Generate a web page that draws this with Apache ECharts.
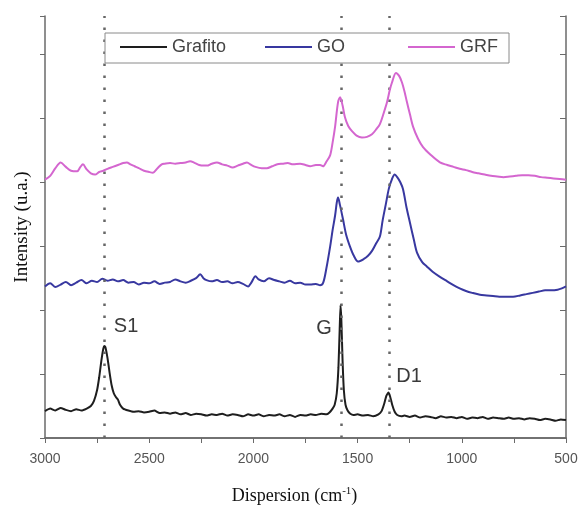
<!DOCTYPE html>
<html>
<head>
<meta charset="utf-8">
<script src="https://cdn.jsdelivr.net/npm/echarts@6/dist/echarts.min.js"></script>
<style>
  html, body { margin: 0; padding: 0; background: #fff; }
  #chart { width: 581px; height: 511px; }
</style>
</head>
<body>
<div id="chart"></div>
<script>
// Raman spectra, [wavenumber cm-1, intensity a.u.]
const grafito = [
  [3000,0.42],[2975,0.46],[2950,0.43],[2925,0.47],[2900,0.44],[2875,0.42],[2850,0.45],[2825,0.43],
  [2800,0.46],[2780,0.50],[2765,0.58],[2750,0.75],[2740,0.95],[2730,1.20],[2720,1.40],[2715,1.44],
  [2710,1.42],[2700,1.25],[2690,1.02],[2680,0.82],[2670,0.70],[2660,0.64],[2650,0.60],[2640,0.52],
  [2625,0.46],[2600,0.43],[2575,0.41],[2550,0.42],[2525,0.40],[2500,0.41],[2475,0.43],[2450,0.39],
  [2425,0.40],[2400,0.38],[2375,0.40],[2350,0.37],[2325,0.39],[2300,0.36],[2275,0.38],[2250,0.37],
  [2225,0.35],[2200,0.37],[2175,0.36],[2150,0.38],[2125,0.35],[2100,0.37],[2075,0.36],[2050,0.34],
  [2025,0.37],[2000,0.35],[1975,0.37],[1950,0.34],[1925,0.36],[1900,0.35],[1875,0.37],[1850,0.34],
  [1825,0.36],[1800,0.33],[1775,0.36],[1750,0.35],[1725,0.37],[1700,0.36],[1675,0.38],[1650,0.37],
  [1635,0.40],[1620,0.46],[1610,0.52],[1600,0.70],[1592,1.10],[1586,1.70],[1582,2.08],[1578,1.85],
  [1572,1.20],[1566,0.75],[1558,0.52],[1548,0.43],[1535,0.38],[1520,0.36],[1500,0.37],[1475,0.35],
  [1450,0.36],[1425,0.34],[1400,0.37],[1385,0.42],[1372,0.54],[1362,0.66],[1352,0.71],[1344,0.65],
  [1334,0.52],[1322,0.41],[1310,0.36],[1290,0.34],[1275,0.35],[1250,0.33],[1225,0.35],[1200,0.32],
  [1175,0.34],[1150,0.33],[1125,0.31],[1100,0.34],[1075,0.32],[1050,0.33],[1025,0.31],[1000,0.33],
  [975,0.30],[950,0.32],[925,0.31],[900,0.33],[875,0.30],[850,0.32],[825,0.31],[800,0.30],
  [775,0.32],[750,0.30],[725,0.31],[700,0.29],[675,0.31],[650,0.30],[625,0.28],[600,0.30],
  [575,0.29],[550,0.27],[525,0.29],[500,0.28]
]
const go = [
  [3000,2.37],[2975,2.42],[2950,2.36],[2925,2.40],[2900,2.44],[2875,2.39],[2850,2.43],[2825,2.47],
  [2800,2.42],[2775,2.46],[2750,2.44],[2725,2.49],[2700,2.46],[2675,2.48],[2650,2.45],[2625,2.47],
  [2600,2.43],[2575,2.44],[2550,2.40],[2525,2.43],[2500,2.42],[2475,2.45],[2450,2.41],[2425,2.43],
  [2400,2.44],[2375,2.48],[2350,2.45],[2325,2.43],[2300,2.46],[2275,2.50],[2255,2.56],[2240,2.50],
  [2225,2.47],[2200,2.45],[2175,2.47],[2150,2.44],[2125,2.45],[2100,2.42],[2075,2.44],[2050,2.41],
  [2025,2.37],[2010,2.43],[1990,2.53],[1975,2.48],[1950,2.45],[1925,2.50],[1900,2.47],[1875,2.45],
  [1850,2.43],[1825,2.46],[1800,2.42],[1775,2.43],[1750,2.40],[1728,2.40],[1700,2.41],[1680,2.39],
  [1665,2.43],[1650,2.65],[1632,2.99],[1620,3.25],[1608,3.48],[1600,3.68],[1594,3.76],[1585,3.65],
  [1570,3.42],[1555,3.18],[1536,2.99],[1518,2.85],[1498,2.76],[1470,2.80],[1450,2.85],[1430,2.93],
  [1410,3.05],[1393,3.15],[1380,3.40],[1365,3.65],[1350,3.90],[1335,4.05],[1322,4.12],[1310,4.08],
  [1295,4.00],[1282,3.89],[1265,3.60],[1249,3.37],[1230,3.10],[1215,2.90],[1190,2.75],[1167,2.68],
  [1140,2.60],[1105,2.52],[1070,2.45],[1040,2.39],[1010,2.34],[980,2.30],[950,2.27],[913,2.24],
  [880,2.23],[850,2.22],[820,2.21],[790,2.21],[754,2.21],[720,2.23],[690,2.25],[660,2.27],
  [630,2.29],[600,2.31],[570,2.31],[540,2.32],[520,2.34],[500,2.37]
]
const grf = [
  [3000,4.04],[2975,4.10],[2950,4.22],[2925,4.31],[2900,4.24],[2875,4.18],[2846,4.17],[2830,4.24],
  [2818,4.28],[2800,4.20],[2780,4.14],[2760,4.12],[2740,4.16],[2720,4.18],[2700,4.21],[2675,4.24],
  [2650,4.27],[2625,4.30],[2607,4.31],[2590,4.28],[2570,4.25],[2550,4.22],[2525,4.18],[2500,4.16],
  [2482,4.15],[2460,4.22],[2440,4.28],[2425,4.29],[2400,4.30],[2375,4.29],[2350,4.30],[2325,4.31],
  [2304,4.33],[2280,4.30],[2260,4.27],[2240,4.26],[2223,4.26],[2200,4.29],[2175,4.31],[2150,4.28],
  [2125,4.26],[2100,4.23],[2075,4.26],[2050,4.29],[2031,4.31],[2010,4.27],[1990,4.24],[1960,4.22],
  [1935,4.22],[1910,4.25],[1885,4.28],[1860,4.29],[1835,4.30],[1810,4.28],[1776,4.29],[1750,4.27],
  [1728,4.25],[1700,4.27],[1680,4.27],[1666,4.25],[1650,4.32],[1632,4.42],[1620,4.62],[1608,4.87],
  [1594,5.25],[1584,5.33],[1572,5.20],[1561,5.02],[1545,4.88],[1527,4.80],[1505,4.73],[1479,4.70],
  [1455,4.71],[1431,4.75],[1410,4.83],[1393,4.91],[1375,5.08],[1359,5.25],[1345,5.45],[1335,5.56],
  [1316,5.71],[1300,5.66],[1287,5.56],[1275,5.42],[1263,5.25],[1248,5.05],[1234,4.87],[1210,4.68],
  [1186,4.55],[1150,4.43],[1105,4.31],[1070,4.27],[1040,4.24],[1010,4.21],[980,4.19],[950,4.16],
  [920,4.14],[890,4.12],[860,4.10],[830,4.09],[800,4.08],[770,4.09],[740,4.10],[710,4.11],
  [680,4.11],[650,4.10],[620,4.08],[590,4.07],[560,4.06],[530,4.05],[500,4.04]
]
const seriesNames = ['Grafito', 'GO', 'GRF']
const seriesColors = ['#1e1e1e', '#3838a0', '#d466cf']
const peakPositions = [2717, 1580, 1350]
const peakLabels = [
  { name: 'S1', coord: [2611, 1.74] },
  { name: 'G', coord: [1661, 1.72] },
  { name: 'D1', coord: [1253, 0.96] }
]

const chart = echarts.init(document.getElementById('chart'))
const sans = 'Liberation Sans, Arial, sans-serif'
const serif = 'Liberation Serif, Times New Roman, serif'
const frame = { show: true, lineStyle: { color: '#6a6a6a', width: 1.5 } }

function makeLegend(name, left) {
  return {
    data: [name], left: left, top: 38, padding: 0, z: 20,
    icon: 'rect', itemWidth: 47, itemHeight: 2,
    textStyle: { fontFamily: sans, fontSize: 18, color: '#444' }
  }
}

const option = {
  animation: false,
  backgroundColor: '#fff',
  grid: { left: 45, right: 15, top: 16, bottom: 73 },
  legend: [makeLegend('Grafito', 120), makeLegend('GO', 265), makeLegend('GRF', 408)],
  graphic: [{
    type: 'rect', z: 10,
    shape: { x: 105, y: 33, width: 404, height: 30 },
    style: { fill: '#fff', stroke: '#8a8a8a', lineWidth: 1 }
  }],
  xAxis: [{
    type: 'value', min: 500, max: 3000, interval: 500, inverse: true,
    name: 'Dispersion (cm{sup|-1})', nameLocation: 'middle', nameGap: 48,
    nameTextStyle: {
      fontFamily: serif, fontSize: 18, color: '#111', lineHeight: 20, padding: [0, 22, 0, 0],
      rich: { sup: { fontFamily: serif, fontSize: 11, color: '#111', verticalAlign: 'top', lineHeight: 11 } }
    },
    axisLine: frame,
    axisTick: { show: true, inside: false, length: 4, lineStyle: { color: '#6a6a6a' } },
    minorTick: { show: true, splitNumber: 2, length: 4, lineStyle: { color: '#6a6a6a' } },
    axisLabel: { fontFamily: sans, fontSize: 14, color: '#555', margin: 14, formatter: v => String(v) },
    splitLine: { show: false }
  }, {
    type: 'value', min: 500, max: 3000, interval: 250, inverse: true, position: 'top',
    axisLine: frame,
    axisTick: { show: true, inside: true, length: 5, lineStyle: { color: '#6a6a6a' } },
    axisLabel: { show: false }, splitLine: { show: false }
  }],
  yAxis: [{
    type: 'value', min: 0, max: 6.6, interval: 1,
    name: 'Intensity (u.a.)', nameLocation: 'middle', nameGap: 13,
    nameTextStyle: { fontFamily: serif, fontSize: 19, color: '#111' },
    axisLine: frame,
    axisTick: { show: true, inside: false, length: 5, lineStyle: { color: '#6a6a6a' } },
    axisLabel: { show: false }, splitLine: { show: false }
  }, {
    type: 'value', min: 0, max: 6.6, interval: 1, position: 'right',
    axisLine: frame,
    axisTick: { show: true, inside: true, length: 6, lineStyle: { color: '#6a6a6a' } },
    axisLabel: { show: false }, splitLine: { show: false }
  }],
  series: [grafito, go, grf].map((data, i) => ({
    name: seriesNames[i],
    type: 'line',
    data: data,
    symbol: 'none',
    smooth: i === 0 ? 0.15 : 0.3,
    z: 3 + i,
    lineStyle: { color: seriesColors[i], width: 2 },
    itemStyle: { color: seriesColors[i] }
  }))
}

// dotted guide lines and peak names on the Grafito series
option.series[0].markLine = {
  silent: true, symbol: 'none', label: { show: false },
  lineStyle: { color: '#666', width: 2.5, type: [2.5, 9.5] },
  data: peakPositions.map(p => ({ xAxis: p }))
}
option.series[0].markPoint = {
  silent: true, symbol: 'circle', symbolSize: 0,
  label: { show: true, position: 'inside', formatter: '{b}', fontFamily: sans, fontSize: 20, color: '#3a3a3a' },
  data: peakLabels.map(p => ({ name: p.name, coord: p.coord }))
}

chart.setOption(option)
</script>
</body>
</html>
